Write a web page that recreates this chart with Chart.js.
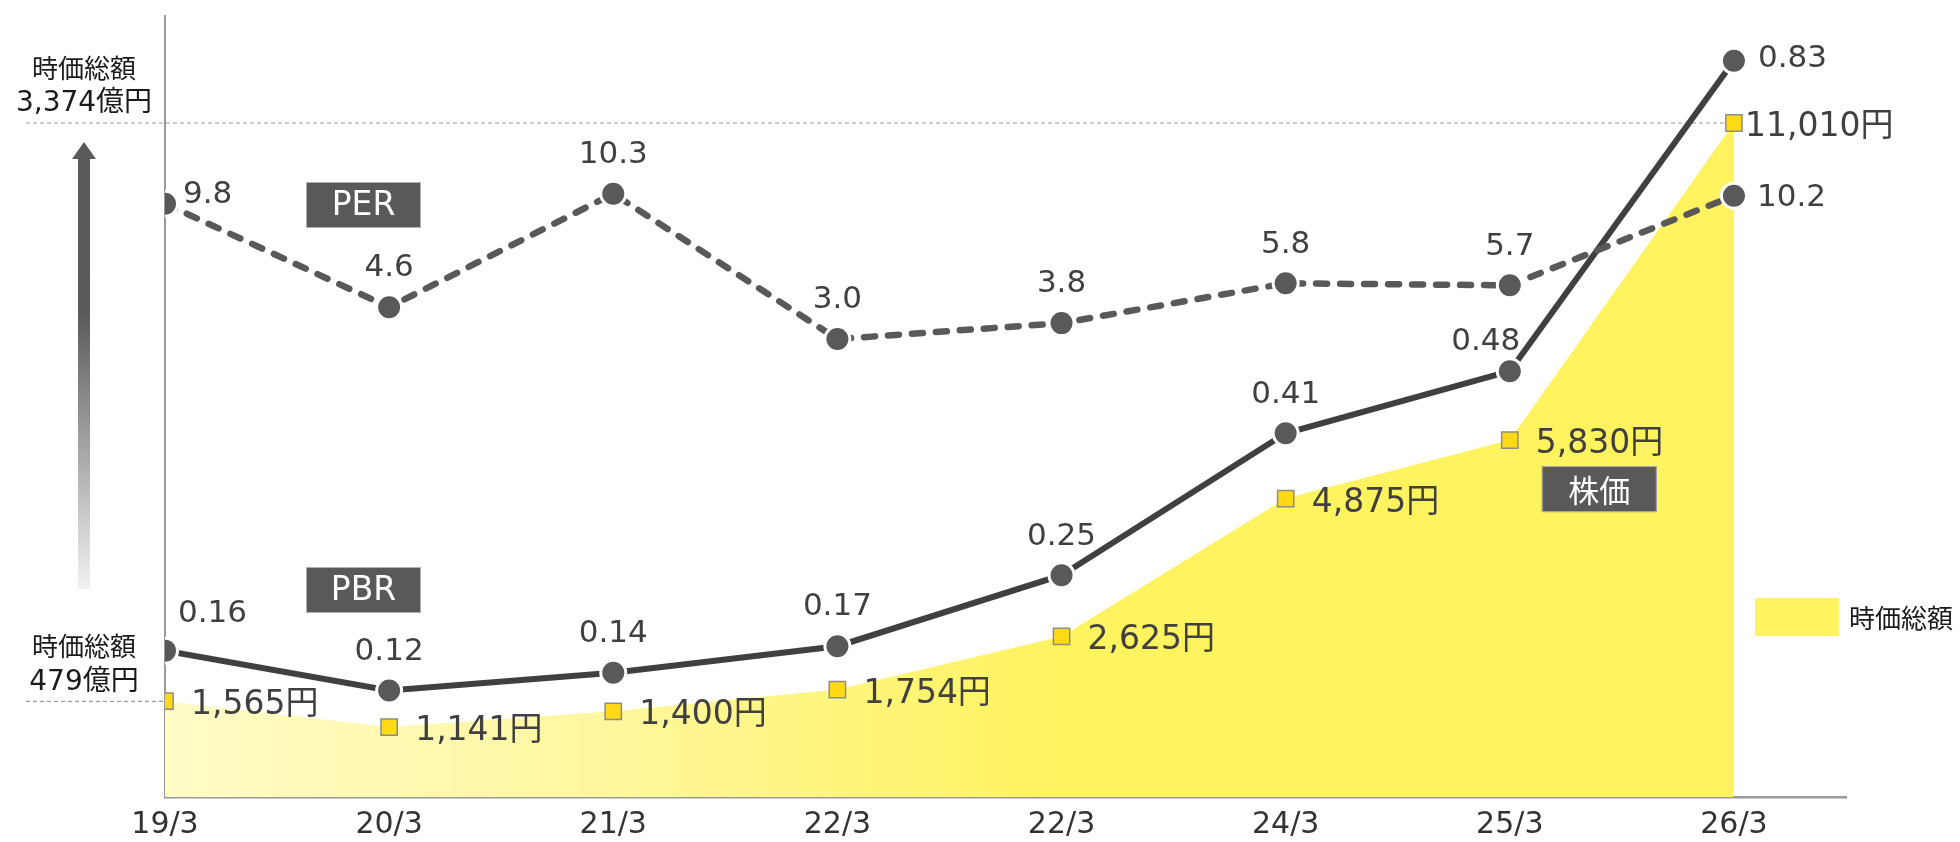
<!DOCTYPE html>
<html>
<head>
<meta charset="utf-8">
<script src="https://cdn.jsdelivr.net/npm/chart.js@4.4.1/dist/chart.umd.min.js"></script>
<style>
html,body{margin:0;padding:0;background:#fff;}
#wrap{width:1960px;height:842px;position:relative;}
</style>
</head>
<body>
<div id="wrap"><canvas id="c" width="1960" height="842"></canvas></div>
<script>
// ---- data ----
const categories = ['19/3', '20/3', '21/3', '22/3', '22/3', '24/3', '25/3', '26/3'];
const perValues = [9.8, 4.6, 10.3, 3.0, 3.8, 5.8, 5.7, 10.2];
const perLabels = ['9.8', '4.6', '10.3', '3.0', '3.8', '5.8', '5.7', '10.2'];
const pbrValues = [0.165, 0.12, 0.14, 0.17, 0.25, 0.41, 0.48, 0.83];
const pbrLabels = ['0.16', '0.12', '0.14', '0.17', '0.25', '0.41', '0.48', '0.83'];
const priceValues = [1565, 1141, 1400, 1754, 2625, 4875, 5830, 11010];
const priceLabels = ['1,565円', '1,141円', '1,400円', '1,754円', '2,625円', '4,875円', '5,830円', '11,010円'];
const marketCapValues = [479, 350, 429, 538, 804, 1494, 1787, 3374];
const capMarkerValues = [479, 3374];
const capMarkerLabels = [['時価総額', '479億円'], ['時価総額', '3,374億円']];
const seriesNames = { per: 'PER', pbr: 'PBR', price: '株価', cap: '時価総額' };

const FONT = "'DejaVu Sans','Noto Sans CJK JP',sans-serif";
const CJK = "'Noto Sans CJK JP',sans-serif";
const xy = arr => arr.map((v, i) => ({ x: i, y: v }));

function txt(c, s, x, y, align, size, color) {
  c.font = size + 'px ' + FONT;
  c.textAlign = align;
  c.textBaseline = 'alphabetic';
  c.fillStyle = color;
  c.fillText(s, x, y + size * 0.364);
}
function boxLabel(c, s, x, y, w, h, size, fam) {
  c.fillStyle = '#595959';
  c.fillRect(x, y, w, h);
  c.strokeStyle = '#b0b0b0';
  c.lineWidth = 1;
  c.strokeRect(x + 0.5, y + 0.5, w - 1, h - 1);
  c.font = size + 'px ' + fam;
  c.textAlign = 'center';
  c.textBaseline = 'middle';
  c.fillStyle = '#ffffff';
  c.fillText(s, x + w / 2, y + h / 2 + 1);
}

const annotate = {
  id: 'annotate',
  beforeDatasetsDraw(chart) {
    const c = chart.ctx, xs = chart.scales.x, yc = chart.scales.yCap;
    c.save();
    c.strokeStyle = '#9a9a9a';
    c.lineWidth = 1.2;
    c.setLineDash([4, 3]);
    const yLow = yc.getPixelForValue(capMarkerValues[0]);
    const yTop = yc.getPixelForValue(capMarkerValues[1]);
    c.beginPath(); c.moveTo(26, yTop); c.lineTo(xs.getPixelForValue(categories.length - 1), yTop); c.stroke();
    c.beginPath(); c.moveTo(26, yLow); c.lineTo(xs.getPixelForValue(0), yLow); c.stroke();
    c.restore();
  },
  afterDraw(chart) {
    const c = chart.ctx, yc = chart.scales.yCap;
    c.save();
    // left market-cap annotations
    capMarkerValues.forEach((v, k) => {
      const y = yc.getPixelForValue(v);
      c.font = '26px ' + CJK; c.textAlign = 'center'; c.textBaseline = 'middle'; c.fillStyle = '#1a1a1a';
      c.fillText(capMarkerLabels[k][0], 84, y - 55);
      txt(c, capMarkerLabels[k][1], 84, y - 22, 'center', 28, '#1a1a1a');
    });
    // gradient arrow
    const g = c.createLinearGradient(0, 142, 0, 589);
    g.addColorStop(0, '#595959');
    g.addColorStop(0.38, '#5a5a5a');
    g.addColorStop(1, '#f2f2f2');
    c.fillStyle = g;
    c.beginPath();
    c.moveTo(84, 142); c.lineTo(96, 159); c.lineTo(90, 159); c.lineTo(90, 589);
    c.lineTo(78, 589); c.lineTo(78, 159); c.lineTo(72, 159); c.closePath();
    c.fill();

    // series name boxes
    boxLabel(c, seriesNames.per, 306, 182, 115, 46, 33, FONT);
    boxLabel(c, seriesNames.pbr, 306, 567, 115, 46, 33, FONT);
    const pm = chart.getDatasetMeta(1).data;
    boxLabel(c, seriesNames.price, pm[6].x + 32, pm[6].y + 26, 115, 46, 31, CJK);

    // legend
    c.fillStyle = '#fff35f';
    c.fillRect(1755, 598, 84, 38);
    c.font = '26px ' + CJK; c.textAlign = 'left'; c.textBaseline = 'middle'; c.fillStyle = '#1a1a1a';
    c.fillText(seriesNames.cap, 1849, 618);

    // value labels
    const last = categories.length - 1;
    const col = '#404040';
    const fs = 31;
    const perM = chart.getDatasetMeta(2).data;
    perM.forEach((p, i) => {
      if (i === 0) txt(c, perLabels[i], p.x + 18, p.y - 12, 'left', fs, col);
      else if (i === last) txt(c, perLabels[i], p.x + 23, p.y - 1, 'left', fs, col);
      else txt(c, perLabels[i], p.x, p.y - 42, 'center', fs, col);
    });
    const pbrM = chart.getDatasetMeta(3).data;
    pbrM.forEach((p, i) => {
      if (i === 0) txt(c, pbrLabels[i], p.x + 13, p.y - 40, 'left', fs, col);
      else if (i === last) txt(c, pbrLabels[i], p.x + 24, p.y - 5, 'left', fs, col);
      else if (i === last - 1) txt(c, pbrLabels[i], p.x - 24, p.y - 32, 'center', fs, col);
      else txt(c, pbrLabels[i], p.x, p.y - 42, 'center', fs, col);
    });
    pm.forEach((p, i) => {
      txt(c, priceLabels[i], p.x + (i === last ? 11 : 26), p.y + 1, 'left', 33, col);
    });
    c.restore();
  }
};

function areaGradient(ctx) {
  const chart = ctx.chart;
  const xs = chart.scales.x;
  if (!chart.chartArea || !xs) return '#fff35f';
  const g = chart.ctx.createLinearGradient(xs.getPixelForValue(0), 0, xs.getPixelForValue(4), 0);
  g.addColorStop(0, '#fffbc6');
  g.addColorStop(0.45, '#fff7a2');
  g.addColorStop(1, '#fff35f');
  return g;
}

new Chart(document.getElementById('c'), {
  type: 'line',
  data: {
    datasets: [
      {
        label: seriesNames.cap,
        data: xy(marketCapValues),
        yAxisID: 'yCap',
        fill: 'origin',
        backgroundColor: areaGradient,
        borderWidth: 0,
        pointRadius: 0,
        order: 4
      },
      {
        label: seriesNames.price,
        data: xy(priceValues),
        yAxisID: 'yPrice',
        showLine: false,
        pointStyle: 'rect',
        pointRadius: 11.5,
        pointBackgroundColor: '#ffd916',
        pointBorderColor: '#8c8c8c',
        pointBorderWidth: 1.5,
        order: 3
      },
      {
        label: seriesNames.per,
        data: xy(perValues),
        yAxisID: 'yPer',
        borderColor: '#595959',
        borderWidth: 6.5,
        borderDash: [11, 13],
        borderCapStyle: 'round',
        pointRadius: 12.5,
        pointBackgroundColor: '#595959',
        pointBorderColor: '#ffffff',
        pointBorderWidth: 3,
        order: 1
      },
      {
        label: seriesNames.pbr,
        data: xy(pbrValues),
        yAxisID: 'yPbr',
        borderColor: '#404040',
        borderWidth: 6,
        pointRadius: 12.5,
        pointBackgroundColor: '#595959',
        pointBorderColor: '#ffffff',
        pointBorderWidth: 3,
        order: 2
      }
    ]
  },
  options: {
    responsive: false,
    animation: false,
    devicePixelRatio: 1,
    layout: { padding: { left: 165, right: 114, top: 12, bottom: 0 } },
    plugins: { legend: { display: false }, tooltip: { enabled: false } },
    elements: { line: { tension: 0 } },
    scales: {
      x: {
        type: 'linear',
        min: 0,
        max: 7.5,
        afterBuildTicks: s => { s.ticks = categories.map((_, i) => ({ value: i })); },
        afterFit: s => { s.height = 45; },
        ticks: {
          callback: v => categories[v] ?? '',
          font: { family: FONT, size: 30 },
          color: '#333333',
          padding: 10,
          maxRotation: 0,
          autoSkip: false
        },
        grid: { display: false, drawTicks: false },
        border: { display: true, color: '#999999', width: 2.5 }
      },
      yPer: {
        position: 'left',
        min: -20,
        max: 19.25,
        ticks: { display: false },
        grid: { display: false, drawTicks: false },
        border: { display: true, color: '#999999', width: 2 },
        afterFit: s => { s.width = 0; }
      },
      yPbr: { display: false, min: 0, max: 0.881 },
      yPrice: { display: false, min: 0, max: 12766 },
      yCap: { display: false, min: 0, max: 3912 }
    }
  },
  plugins: [annotate]
});
</script>
</body>
</html>
